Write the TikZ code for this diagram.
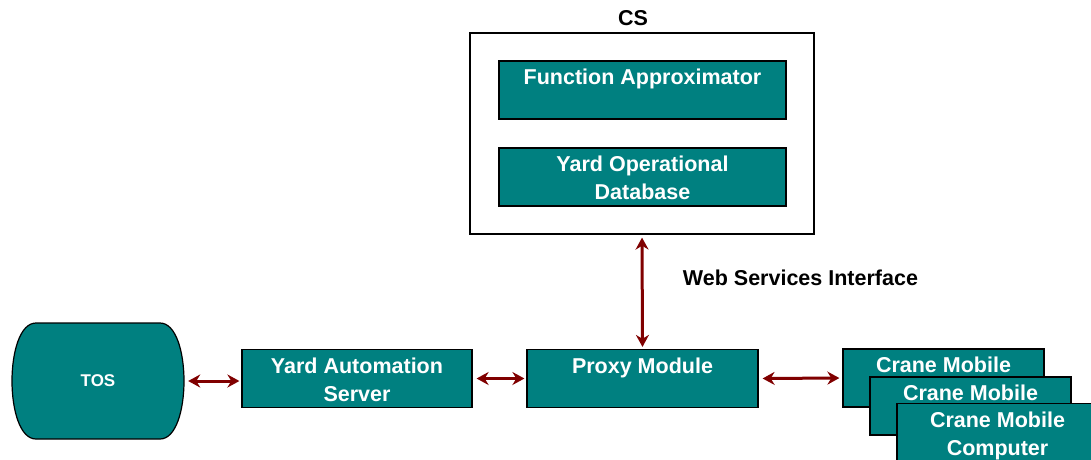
\documentclass[tikz,border=0pt]{standalone}
\usepackage{fontspec}
\setmainfont{Liberation Sans}
\usetikzlibrary{arrows.meta}
\definecolor{boxteal}{RGB}{0,128,128}
\definecolor{arrowred}{RGB}{128,0,0}
\newcommand\lnstrut{\rule[-5.4pt]{0pt}{28pt}}
\tikzset{
  mainfont/.style={font=\bfseries\fontsize{21.5}{28}\selectfont},
  tealbox/.style={draw=black, line width=1.2pt, fill=boxteal, text=white, mainfont, align=center, inner sep=0pt},
  outerbox/.style={draw=black, line width=1.2pt, fill=white, inner sep=0pt},
  conn/.style={draw=arrowred, line width=3pt, {Stealth[length=12pt,width=13pt]}-{Stealth[length=12pt,width=13pt]}},
  plainlabel/.style={text=black, mainfont, inner sep=0pt}
}
\begin{document}
\begin{tikzpicture}[x=1pt,y=-1pt]
\useasboundingbox (0,0) rectangle (1091,459);
% CS container
\node[outerbox, minimum width=344pt, minimum height=201pt] (cs) at (642,133.5) {};
\node[plainlabel] (cslabel) at (633,18) {CS};
\node[tealbox, minimum width=287pt, minimum height=58pt] (fa) at (642.5,90) {\lnstrut Function Approximator\\\lnstrut};
\node[tealbox, minimum width=287pt, minimum height=58pt] (yod) at (642.5,177) {\lnstrut Yard Operational\\\lnstrut Database};
% TOS
\fill[boxteal, draw=black, line width=1.2pt] (36,323) -- (160,323) .. controls (192,323) and (192,439) .. (160,439) -- (36,439) .. controls (4,439) and (4,323) .. (36,323) -- cycle;
\node[text=white, font=\bfseries\fontsize{17}{20}\selectfont, minimum width=172pt, minimum height=116pt, inner sep=0pt] (tos) at (98,381) {TOS};
% Bottom row
\node[tealbox, minimum width=230pt, minimum height=58pt] (yas) at (357,378.5) {\lnstrut Yard Automation\\\lnstrut Server};
\node[tealbox, minimum width=231pt, minimum height=58pt] (proxy) at (642.5,378.5) {\lnstrut Proxy Module\\\lnstrut};
\node[tealbox, minimum width=201pt, minimum height=58pt] (crane1) at (943.5,378) {\lnstrut Crane Mobile\\\lnstrut};
\node[tealbox, minimum width=201pt, minimum height=58pt] (crane2) at (970.5,406) {\lnstrut Crane Mobile\\\lnstrut};
\node[tealbox, minimum width=201pt, minimum height=58pt] (crane3) at (997.5,432.5) {\lnstrut Crane Mobile\\\lnstrut Computer};
\node[plainlabel] (wsi) at (800.5,278) {Web Services Interface};
% Connectors
\draw[conn, shorten <=4pt, shorten >=2pt] (tos.east) -- (tos.east -| yas.west);
\draw[conn, shorten <=4pt, shorten >=2pt] (yas.east) -- (proxy.west);
\draw[conn, shorten <=4pt, shorten >=3pt] (proxy.east) -- (crane1.west);
\draw[conn, shorten <=3pt, shorten >=2pt] (cs.south) -- (proxy.north);
\end{tikzpicture}
\end{document}
